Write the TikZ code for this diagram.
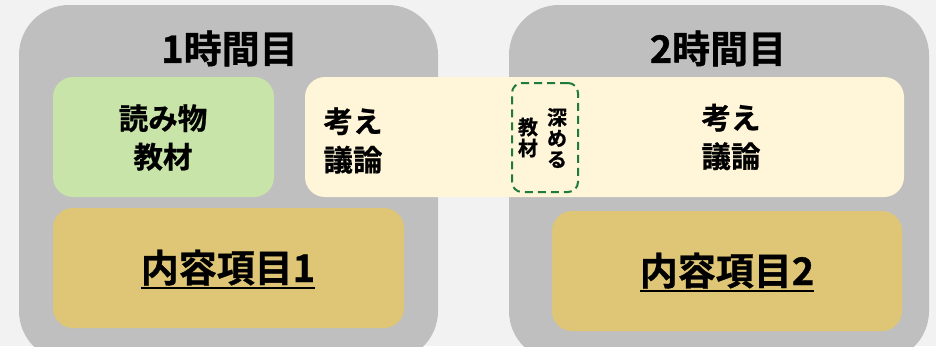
\documentclass[tikz,border=0pt]{standalone}
\usepackage{fontspec}
\setmainfont{Noto Sans CJK JP}[BoldFont={Noto Sans CJK JP Bold}, BoldFeatures={FakeBold=0.8}]
\newcommand\myul[1]{\leavevmode\vtop{\hbox{#1}\kern1.5pt\hrule height 2pt}}
\definecolor{bgc}{HTML}{F2F2F2}
\definecolor{grayc}{HTML}{BFBFBF}
\definecolor{greenc}{HTML}{C8E4A8}
\definecolor{yellowc}{HTML}{FFF5D8}
\definecolor{goldc}{HTML}{DEC676}
\definecolor{dashc}{HTML}{1E7B3A}
\tikzset{
  outerbox/.style={fill=grayc, rounded corners=50pt, inner sep=0pt},
  greenbox/.style={fill=greenc, rounded corners=20pt, inner sep=0pt},
  yellowbox/.style={fill=yellowc, rounded corners=20pt, inner sep=0pt},
  goldbox/.style={fill=goldc, rounded corners=20pt, inner sep=0pt},
  dashbox/.style={draw=dashc, line width=2pt, dash pattern=on 8pt off 5pt, rounded corners=10pt, inner sep=0pt},
  titletxt/.style={font=\bfseries\fontsize{38}{40}\selectfont, inner sep=0pt},
  bodytxt/.style={font=\bfseries\fontsize{29.5}{38.5}\selectfont, inner sep=0pt},
  itemtxt/.style={font=\bfseries\fontsize{38}{40}\selectfont, inner sep=0pt},
  verttxt/.style={font=\bfseries\fontsize{20}{21}\selectfont, inner sep=0pt, align=center},
}
\begin{document}
\begin{tikzpicture}[x=1pt,y=-1pt]
\fill[bgc] (0,0) rectangle (936,346);
\useasboundingbox (0,0) rectangle (936,346);
\clip (0,0) rectangle (936,346);
\node[outerbox, minimum width=419pt, minimum height=356pt] (L) at (228.5,183) {};
\node[outerbox, minimum width=420pt, minimum height=356pt] (R) at (719,183) {};
\node[titletxt] (t1) at (229.5,48.5) {1時間目};
\node[titletxt] (t2) at (718,48.5) {2時間目};
\node[greenbox, minimum width=221pt, minimum height=120pt] (G) at (163.5,137) {};
\node[bodytxt, align=center] (gt) at (163,137.5) {読み物\\教材};
\node[yellowbox, minimum width=599pt, minimum height=120pt] (Y) at (604.5,137) {};
\node[bodytxt, align=left] (y1) at (353,140.5) {考え\\議論};
\node[bodytxt, align=center] (y2) at (731,137) {考え\\議論};
\node[dashbox, minimum width=66pt, minimum height=109pt] (D) at (545,137.5) {};
\node[verttxt] (v1) at (557,138) {深\\め\\る};
\node[verttxt] (v2) at (528,137.5) {教\\材};
\node[goldbox, minimum width=351pt, minimum height=120pt] (I1) at (228.5,268) {};
\node[goldbox, minimum width=350pt, minimum height=120pt] (I2) at (727,271) {};
\node[itemtxt, anchor=base] (i1) at (228,282) {\myul{内容項目1}};
\node[itemtxt, anchor=base] (i2) at (727,285) {\myul{内容項目2}};
\end{tikzpicture}
\end{document}
